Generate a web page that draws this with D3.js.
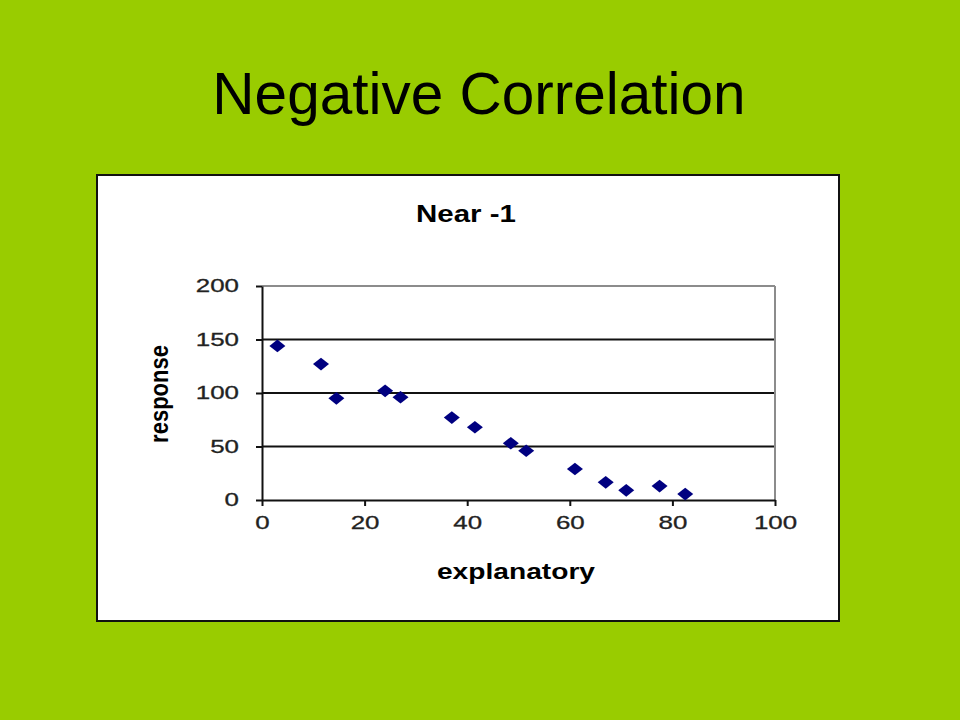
<!DOCTYPE html>
<html>
<head>
<meta charset="utf-8">
<script src="https://cdn.jsdelivr.net/npm/d3@7"></script>
<style>
  body { margin: 0; background: #99cc00; }
  svg { display: block; }
  text { font-family: "Liberation Sans", Arial, sans-serif; }
</style>
</head>
<body>
<div id="chart"></div>
<script>
// Data
const explanatory = [3, 11.5, 14.5, 24, 27, 37, 41.5, 48.5, 51.5, 61, 67, 71, 77.5, 82.5];
const response = [144, 127, 95, 102, 96, 77, 68, 53, 46, 29, 16.5, 9, 13, 5.5];
const xTicks = [0, 20, 40, 60, 80, 100];
const yTicks = [0, 50, 100, 150, 200];

const points = explanatory.map((x, i) => ({ x: x, y: response[i] }));

const W = 960, H = 720;
const svg = d3.select("#chart").append("svg")
    .attr("width", W)
    .attr("height", H);

// slide background
svg.append("rect").attr("width", W).attr("height", H).attr("fill", "#99cc00");

svg.append("text")
    .attr("x", 479)
    .attr("y", 114)
    .attr("text-anchor", "middle")
    .style("font-size", "58.5px")
    .text("Negative Correlation");

// white chart box
svg.append("rect")
    .attr("x", 97).attr("y", 175)
    .attr("width", 742).attr("height", 446)
    .attr("fill", "#fff")
    .attr("stroke", "#111")
    .attr("stroke-width", 2);

const plot = { left: 262, right: 775, top: 286, bottom: 500 };

const xScale = d3.scaleLinear().domain([0, 100]).range([plot.left, plot.right]);
const yScale = d3.scaleLinear().domain([0, 200]).range([plot.bottom, plot.top]);

// gridlines
svg.append("g")
    .selectAll("line")
    .data(yTicks.filter(d => d > 0))
    .enter()
    .append("line")
    .attr("x1", plot.left).attr("x2", plot.right)
    .attr("y1", d => yScale(d)).attr("y2", d => yScale(d))
    .attr("stroke", d => d === 200 ? "#8c8c8c" : "#111")
    .attr("stroke-width", 2);

// right border of plot area
svg.append("line")
    .attr("x1", plot.right).attr("x2", plot.right)
    .attr("y1", plot.top).attr("y2", plot.bottom)
    .attr("stroke", "#8c8c8c")
    .attr("stroke-width", 2);

// axes
const xAxis = d3.axisBottom(xScale).tickValues(xTicks).tickSize(6).tickPadding(10).tickSizeOuter(0);
const yAxis = d3.axisLeft(yScale).tickValues(yTicks).tickSize(6).tickPadding(17).tickSizeOuter(0);

const gx = svg.append("g")
    .attr("transform", `translate(0,${plot.bottom})`)
    .call(xAxis);
const gy = svg.append("g")
    .attr("transform", `translate(${plot.left},0)`)
    .call(yAxis);

[gx, gy].forEach(g => {
    g.select(".domain").attr("stroke", "#111").attr("stroke-width", 2);
    g.selectAll(".tick line").attr("stroke", "#111").attr("stroke-width", 2);
    g.selectAll(".tick text")
        .attr("fill", "#222")
        .attr("stroke", "#222")
        .attr("stroke-width", 0.3)
        .style("font-size", "18.5px")
        .style("font-family", "'Liberation Sans', Arial, sans-serif");
});

// chart title and axis titles
svg.append("text")
    .attr("class", "stretch")
    .attr("x", 466).attr("y", 222)
    .attr("text-anchor", "middle")
    .style("font-size", "23px")
    .style("font-weight", "bold")
    .text("Near -1");

svg.append("text")
    .attr("class", "stretch")
    .attr("x", 516).attr("y", 579)
    .attr("text-anchor", "middle")
    .style("font-size", "22px")
    .style("font-weight", "bold")
    .text("explanatory");

// rotated label: its thickness is widened like the rest of the picture
svg.append("text")
    .attr("text-anchor", "middle")
    .attr("transform", "translate(168,394) rotate(-90) scale(1,1.2)")
    .style("font-size", "22px")
    .style("font-weight", "bold")
    .text("response");

// the picture is horizontally stretched; widen the text to match
function stretch(sel, k) {
    sel.each(function () {
        const len = this.getComputedTextLength();
        d3.select(this)
            .attr("textLength", len * k)
            .attr("lengthAdjust", "spacingAndGlyphs");
    });
}
stretch(svg.selectAll("text.stretch"), 1.28);
stretch(gx.selectAll(".tick text"), 1.4);
stretch(gy.selectAll(".tick text"), 1.4);

// diamond markers, a bit wider than tall
const diamond = {
    draw(ctx, size) {
        const w = 8, h = 6.3;
        ctx.moveTo(0, -h);
        ctx.lineTo(w, 0);
        ctx.lineTo(0, h);
        ctx.lineTo(-w, 0);
        ctx.closePath();
    }
};

svg.selectAll(".dot")
    .data(points)
    .enter()
    .append("path")
    .attr("class", "dot")
    .attr("d", d3.symbol(diamond))
    .attr("transform", d => `translate(${xScale(d.x)},${yScale(d.y)})`)
    .attr("fill", "#000080");
</script>
</body>
</html>
